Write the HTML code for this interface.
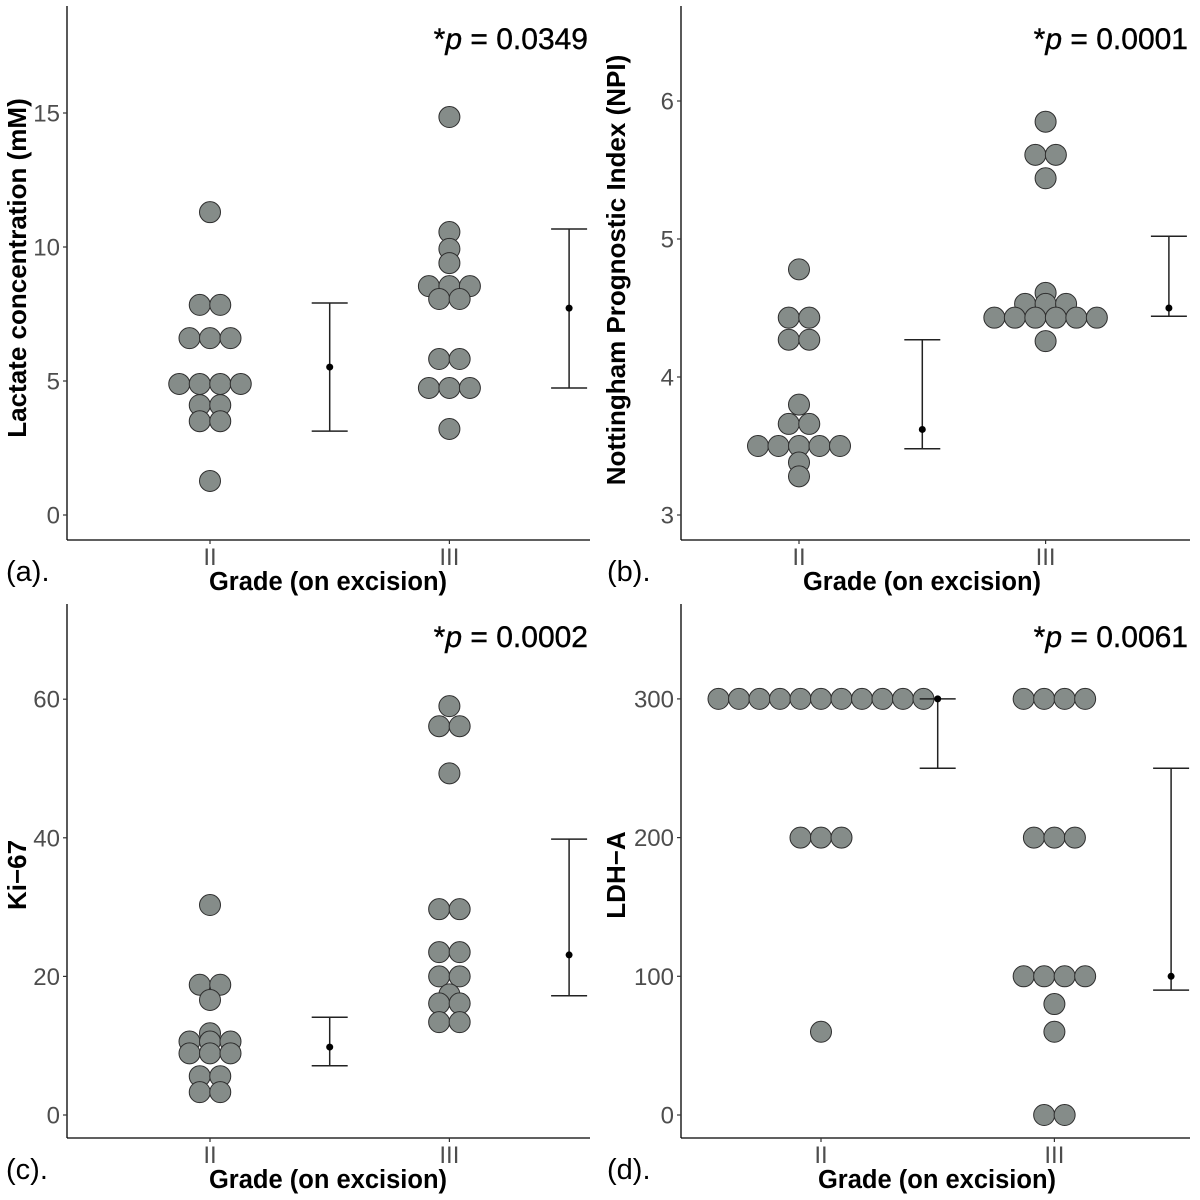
<!DOCTYPE html>
<html><head><meta charset="utf-8"><style>
html,body{margin:0;padding:0;background:#fff;width:1200px;height:1200px;overflow:hidden}
svg text{font-family:"Liberation Sans",sans-serif}
</style></head><body>
<svg id="fig" width="1200" height="1200" viewBox="0 0 1200 1200" xmlns="http://www.w3.org/2000/svg"></svg>
<script>
// ---- Panel (a): Lactate
const aCats = ["II","III"];
const aIIRowValues = [11.3,7.84,6.6,4.89,4.1,3.5,1.27];
const aIIRowCounts = [1,2,3,4,2,2,1];
const aIIIRowValues = [14.85,10.56,9.93,9.4,8.54,8.06,5.82,4.74,3.21];
const aIIIRowCounts = [1,1,1,1,3,2,2,3,1];
const aErrMean = [5.52,7.72], aErrLow = [3.13,4.74], aErrHigh = [7.91,10.67];
const aTicks = [0,5,10,15];
// ---- Panel (b): NPI
const bIIRowValues = [4.78,4.43,4.27,3.8,3.66,3.5,3.38,3.28];
const bIIRowCounts = [1,2,2,1,2,5,1,1];
const bIIIRowValues = [5.85,5.61,5.44,4.61,4.53,4.43,4.26];
const bIIIRowCounts = [1,2,1,1,3,6,1];
const bErrMean = [3.62,4.5], bErrLow = [3.48,4.44], bErrHigh = [4.27,5.02];
const bTicks = [3,4,5,6];
// ---- Panel (c): Ki-67
const cIIRowValues = [30.3,18.8,16.6,11.8,10.6,8.9,5.6,3.3];
const cIIRowCounts = [1,2,1,1,3,3,2,2];
const cIIIRowValues = [59.0,56.1,49.3,29.7,23.5,20.0,17.4,16.1,13.4];
const cIIIRowCounts = [1,2,1,2,2,2,1,2,2];
const cErrMean = [9.8,23.1], cErrLow = [7.1,17.2], cErrHigh = [14.1,39.8];
const cTicks = [0,20,40,60];
// ---- Panel (d): LDH-A
const dIIRowValues = [300,200,60];
const dIIRowCounts = [11,3,1];
const dIIIRowValues = [300,200,100,80,60,0];
const dIIIRowCounts = [4,3,4,1,1,2];
const dErrMean = [300,100], dErrLow = [250,90], dErrHigh = [300,250];
const dTicks = [0,100,200,300];

const NS = "http://www.w3.org/2000/svg";
const svg = document.getElementById('fig');
function mk(tag, attrs, parent){
  const e = document.createElementNS(NS, tag);
  for (const k in attrs) e.setAttribute(k, attrs[k]);
  (parent||svg).appendChild(e); return e;
}

function panel(cfg){
  const g = mk('g', {});
  
  
  const y = v => cfg.y0 - (v - cfg.vmin) * cfg.k;
  const x = i => cfg.x0 + i * cfg.step;
  const ya = mk('line', {x1:cfg.ax, y1:cfg.top, x2:cfg.ax, y2:cfg.bottom, stroke:'#000', 'stroke-width':1.3}, g);
  
  
  const xa = mk('line', {x1:cfg.ax, y1:cfg.bottom, x2:cfg.right, y2:cfg.bottom, stroke:'#000', 'stroke-width':1.3}, g);
  
  
  cfg.ticks.forEach(t => {
    mk('line', {x1:cfg.ax-4, x2:cfg.ax, y1:y(t), y2:y(t), stroke:'#333', 'stroke-width':1.2}, g);
    const tl = mk('text', {x:cfg.ax-7, y:y(t)+8.5, 'text-anchor':'end', 'font-size':24, fill:'#4d4d4d'}, g);
    tl.textContent = t;
    
    
  });
  aCats.forEach((c, i) => {
    const cx = x(i*2);
    mk('line', {x1:cx, x2:cx, y1:cfg.bottom, y2:cfg.bottom+4, stroke:'#333', 'stroke-width':1.2}, g);
    const tl = mk('text', {x:cx, y:cfg.bottom+25, 'text-anchor':'middle', 'font-size':24, fill:'#4d4d4d'}, g);
    tl.textContent = c;
    
    
  });
  const xt = mk('text', {x:cfg.xtitleX, y:cfg.bottom+50, 'text-anchor':'middle', 'font-size':25.5, 'font-weight':'bold', fill:'#000'}, g);
  xt.textContent = 'Grade (on excision)';
  
  
  const yt = mk('text', {x:0, y:0, 'text-anchor':'middle', 'font-size':26, 'font-weight':'bold', fill:'#000',
    transform:`translate(${cfg.ytitleX},${cfg.ytitleY}) rotate(-90)`}, g);
  yt.textContent = cfg.ytitle;
  
  
  const lab = mk('text', {x:cfg.labX, y:cfg.bottom+41, 'font-size':29, fill:'#000', 'font-family':'"DejaVu Sans","Liberation Sans",sans-serif'}, g);
  lab.textContent = cfg.label;
  
  
  const p = mk('text', {x:cfg.right-2, y:cfg.top+43, 'text-anchor':'end', 'font-size':30, fill:'#000', stroke:'#000', 'stroke-width':0.4}, g);
  p.innerHTML = '*<tspan font-style="italic">p</tspan> = ' + cfg.p;
  
  
  const sp = 20.5;
  [[cfg.iiV, cfg.iiC], [cfg.iiiV, cfg.iiiC]].forEach((grp, gi) => {
    const cx = x(gi*2);
    grp[0].forEach((v, r) => {
      const n = grp[1][r];
      for (let j = 0; j < n; j++){
        const d = mk('circle', {cx: cx + (j-(n-1)/2)*sp, cy: y(v), r:10.5, fill:'#858c89', stroke:'#2e2e2e', 'stroke-width':1}, g);
        
        
      }
    });
  });
  [0,1].forEach(i => {
    const ex = x(i*2+1);
    const eb = mk('g', {}, g);
    
    
    mk('line', {x1:ex, x2:ex, y1:y(cfg.hi[i]), y2:y(cfg.lo[i]), stroke:'#222', 'stroke-width':1.5}, eb);
    mk('line', {x1:ex-18, x2:ex+18, y1:y(cfg.hi[i]), y2:y(cfg.hi[i]), stroke:'#222', 'stroke-width':1.5}, eb);
    mk('line', {x1:ex-18, x2:ex+18, y1:y(cfg.lo[i]), y2:y(cfg.lo[i]), stroke:'#222', 'stroke-width':1.5}, eb);
    mk('circle', {cx:ex, cy:y(cfg.mean[i]), r:3.5, fill:'#000'}, eb);
  });
}

panel({name:'panel-a-lactate', ax:67, top:6, bottom:540, right:590, y0:515, vmin:0, k:26.8, x0:210, step:119.7,
  ticks:aTicks, iiV:aIIRowValues, iiC:aIIRowCounts, iiiV:aIIIRowValues, iiiC:aIIIRowCounts,
  mean:aErrMean, lo:aErrLow, hi:aErrHigh, ytitle:'Lactate concentration (mM)', ytitleX:26, ytitleY:268,
  xtitleX:328, label:'(a).', labX:6, p:'0.0349'});
panel({name:'panel-b-npi', ax:681, top:6, bottom:540, right:1190, y0:515, vmin:3, k:138, x0:799, step:123.3,
  ticks:bTicks, iiV:bIIRowValues, iiC:bIIRowCounts, iiiV:bIIIRowValues, iiiC:bIIIRowCounts,
  mean:bErrMean, lo:bErrLow, hi:bErrHigh, ytitle:'Nottingham Prognostic Index (NPI)', ytitleX:625, ytitleY:270,
  xtitleX:922, label:'(b).', labX:607, p:'0.0001'});
panel({name:'panel-c-ki67', ax:67, top:604, bottom:1138, right:590, y0:1115, vmin:0, k:6.93, x0:210, step:119.7,
  ticks:cTicks, iiV:cIIRowValues, iiC:cIIRowCounts, iiiV:cIIIRowValues, iiiC:cIIIRowCounts,
  mean:cErrMean, lo:cErrLow, hi:cErrHigh, ytitle:'Ki\u221267', ytitleX:26, ytitleY:875,
  xtitleX:328, label:'(c).', labX:6, p:'0.0002'});
panel({name:'panel-d-ldha', ax:681, top:604, bottom:1138, right:1190, y0:1115, vmin:0, k:1.387, x0:821, step:116.7,
  ticks:dTicks, iiV:dIIRowValues, iiC:dIIRowCounts, iiiV:dIIIRowValues, iiiC:dIIIRowCounts,
  mean:dErrMean, lo:dErrLow, hi:dErrHigh, ytitle:'LDH\u2212A', ytitleX:625, ytitleY:875,
  xtitleX:937, label:'(d).', labX:607, p:'0.0061'});
</script>
</body></html>
